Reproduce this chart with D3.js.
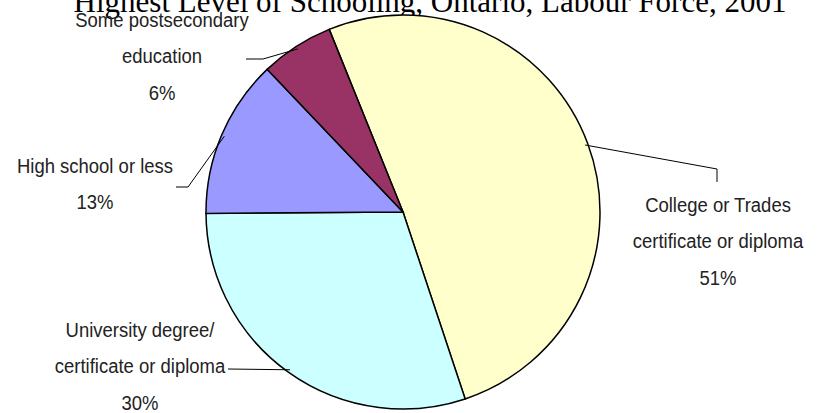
<!DOCTYPE html>
<html lang="en">
<head>
   <meta charset="utf-8">
   <title>Highest Level of Schooling</title>
   <script src="https://d3js.org/d3.v7.min.js"></script>
   <style>
      body { margin: 0; background: #fff; }
      .lbl { font-family: "Liberation Sans", Arial, sans-serif; font-size: 21px; fill: #222; }
   </style>
</head>
<body>
<svg id="chart" width="817" height="413"></svg>
<script>
   // data
   var categories = ["College or Trades certificate or diploma", "University degree/ certificate or diploma",
                     "High school or less", "Some postsecondary education"];
   var values = [51, 30, 13, 6];
   var colors = ["#FFFFCC", "#CCFFFF", "#9999FF", "#993366"];
   var labelLines = [["College or Trades", "certificate or diploma"],
                     ["University degree/", "certificate or diploma"],
                     ["High school or less"],
                     ["Some postsecondary", "education"]];

   var width = 817, height = 413;
   var cx = 403, cy = 212, radius = 197;
   var lineStep = 36.5;

   // label anchor (x centre, first baseline) and leader elbow for each slice
   var labelPos = [
      {x: 718, y: 212, elbow: [[717, 169], [717, 182]]},
      {x: 140, y: 337, elbow: [[228, 369]]},
      {x: 95,  y: 173, elbow: [[188, 187], [176, 187]]},
      {x: 162, y: 27,  elbow: [[263, 59], [246, 59]]}
   ];

   var svg = d3.select("#chart");

   svg.append("text")
      .attr("x", 430)
      .attr("y", 12)
      .attr("text-anchor", "middle")
      .style("font-family", "'Liberation Serif', 'Times New Roman', serif")
      .style("font-size", "31px")
      .text("Highest Level of Schooling, Ontario, Labour Force, 2001");

   var pie = d3.pie()
      .sort(null)
      .startAngle(-22 * Math.PI / 180)
      .endAngle(338 * Math.PI / 180)
      .value(function(d){ return d; });

   var arcs = pie(values);

   var arc = d3.arc().innerRadius(0).outerRadius(radius);

   var g = svg.append("g").attr("transform", "translate(" + cx + "," + cy + ")");

   g.selectAll("path")
      .data(arcs)
      .enter()
      .append("path")
      .attr("d", arc)
      .attr("fill", function(d, i){ return colors[i]; })
      .attr("stroke", "#000")
      .attr("stroke-width", 1.5);

   // leader lines
   arcs.forEach(function(d, i){
      var a = (d.startAngle + d.endAngle) / 2;
      var r = radius * 0.985;
      var pts = [[cx + r * Math.sin(a), cy - r * Math.cos(a)]].concat(labelPos[i].elbow);
      svg.append("path")
         .attr("d", d3.line()(pts))
         .attr("fill", "none")
         .attr("stroke", "#000")
         .attr("stroke-width", 1);
   });

   // labels (narrowed to mimic a condensed face)
   arcs.forEach(function(d, i){
      var p = labelPos[i];
      var lines = labelLines[i].concat([values[i] + "%"]);
      var t = svg.append("text")
         .attr("class", "lbl")
         .attr("text-anchor", "middle")
         .attr("transform", "translate(" + p.x + ",0) scale(0.88,1)");
      lines.forEach(function(s, j){
         t.append("tspan")
            .attr("x", 0)
            .attr("y", p.y + j * lineStep)
            .text(s);
      });
   });
</script>
</body>
</html>
